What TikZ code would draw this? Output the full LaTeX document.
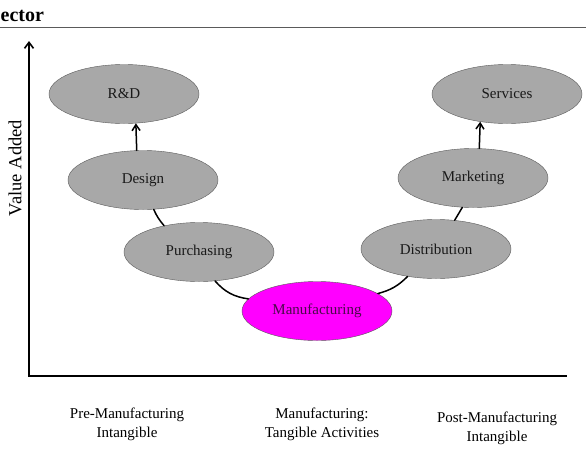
\documentclass[tikz,border=0pt]{standalone}
\usepackage{fontspec}
\setmainfont{Liberation Serif}
\usetikzlibrary{shapes.geometric,arrows.meta}
\definecolor{stagegray}{HTML}{A8A8A8}
\definecolor{stageedge}{HTML}{5A5A5A}
\definecolor{manufcolor}{HTML}{FF00FF}
\definecolor{manuftext}{HTML}{4A0A4A}

\begin{document}
\begin{tikzpicture}[x=1pt, y=-1pt, every node/.style={font=\fontsize{15}{19}\selectfont}]
    \tikzset{
        stage/.style={ellipse, draw=stageedge, fill=stagegray, text=black!90,
            minimum width=150pt, minimum height=59pt, inner sep=0pt},
        link/.style={line width=1.5pt, line cap=round},
        uparrow/.style={link, -{Straight Barb[length=6pt,width=8pt]}}
    }
    \useasboundingbox (0,0) rectangle (586,453);

    % Caption remnant and rule
    \node[font=\bfseries\fontsize{20}{22}\selectfont, anchor=base west, inner sep=0pt] (caption) at (0.5,21) {ector};
    \draw[stageedge, line width=0.9pt] (0,27) -- (586,27);

    % Axes
    \coordinate (ytip) at (29,41);
    \coordinate (origin) at (29,376);
    \coordinate (xend) at (567,376);
    \draw[line width=1.6pt, {Straight Barb[length=6pt,width=9pt]}-] (ytip) -- (origin) -- (xend);
    \node[rotate=90, font=\fontsize{18.5}{20}\selectfont] (vaxis) at (15,168) {Value Added};

    % Stages of the chain
    \node[stage] (rd) at (124,94) {R\&D};
    \node[stage] (design) at (143,180) {Design};
    \node[stage] (purch) at (199,252) {Purchasing};
    \node[stage, fill=manufcolor, text=manuftext] (manuf) at (317,311) {Manufacturing};
    \node[stage] (distr) at (436,249) {Distribution};
    \node[stage] (market) at (473,178) {Marketing};
    \node[stage] (serv) at (507,94) {Services};

    % Connectors
    \draw[uparrow] (design.102) -- (rd.292);
    \draw[link] (design.290) to[bend right=8] (purch.143);
    \draw[link] (purch.299) to[bend right=20] (manuf.170);
    \draw[link] (manuf.16) to[bend right=15] (distr.224);
    \draw[link] (distr.57) -- (market.250);
    \draw[uparrow] (market.78) -- (serv.226);

    % Phase labels
    \node[align=center] (prelbl) at (127,424) {Pre-Manufacturing\\Intangible};
    \node[align=center] (manlbl) at (322,424) {Manufacturing:\\Tangible Activities};
    \node[align=center] (postlbl) at (497,428) {Post-Manufacturing\\Intangible};
\end{tikzpicture}
\end{document}
